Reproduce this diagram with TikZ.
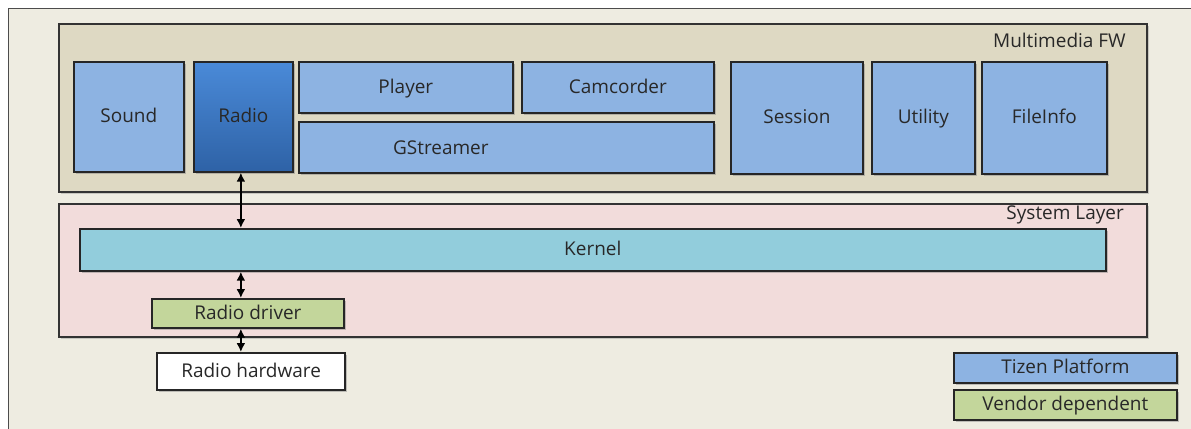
\documentclass[tikz,border=0pt]{standalone}
\usepackage{fontspec}
\setmainfont{Open Sans}
\usetikzlibrary{shadows,arrows.meta}

\definecolor{pageBg}{RGB}{238,236,225}
\definecolor{mmBg}{RGB}{222,217,195}
\definecolor{sysBg}{RGB}{242,220,219}
\definecolor{tizenBlue}{RGB}{141,179,226}
\definecolor{kernelBlue}{RGB}{146,205,220}
\definecolor{vendorGreen}{RGB}{195,214,155}
\definecolor{radioTop}{RGB}{74,138,216}
\definecolor{radioBot}{RGB}{46,98,166}
\definecolor{txt}{RGB}{40,40,40}

\tikzset{
  box/.style={draw=black!85, line width=1pt, inner sep=0pt, anchor=north west,
    text=txt, text height=1.6ex, text depth=0.3ex,
    drop shadow={shadow xshift=1.2pt, shadow yshift=-1.2pt, opacity=0.45}},
  tizen/.style={box, fill=tizenBlue},
  vendor/.style={box, fill=vendorGreen},
  layer/.style={draw=black!80, line width=1pt, inner sep=0pt, anchor=north west,
    drop shadow={shadow xshift=1.2pt, shadow yshift=-1.2pt, opacity=0.35}},
  link/.style={{Latex[length=5pt,width=5pt]}-{Latex[length=5pt,width=5pt]}, line width=1pt}
}

\begin{document}
\begin{tikzpicture}[x=0.02cm, y=-0.02cm, font=\fontsize{10.8}{13}\selectfont]

\useasboundingbox (0,0) rectangle (1191,429);

% Page background
\draw[black!70, fill=pageBg] (8,8) rectangle (1200,440);

% Layers
\node[layer, fill=mmBg, minimum width=21.76cm, minimum height=3.36cm] (mmfw) at (58,23) {};
\node[layer, fill=sysBg, minimum width=21.76cm, minimum height=2.66cm] (syslayer) at (58,203) {};
\node[anchor=east, text=txt] (mmlabel) at (1132,40) {Multimedia FW};
\node[anchor=east, text=txt] (syslabel) at (1130,215) {System Layer};

% Multimedia FW blocks
\node[tizen, minimum width=2.2cm, minimum height=2.2cm] (sound) at (73,61) {Sound};
\node[box, top color=radioTop, bottom color=radioBot, minimum width=1.98cm,
  minimum height=2.2cm] (radio) at (193,61) {Radio};
\node[tizen, minimum width=4.28cm, minimum height=1.02cm] (player) at (298,61) {Player};
\node[tizen, minimum width=3.84cm, minimum height=1.02cm] (camcorder) at (521,61) {Camcorder};
\node[tizen, minimum width=8.3cm, minimum height=1.02cm,
  label={[xshift=-1.31cm, text=txt]center:GStreamer}] (gstreamer) at (298,121) {};
\node[tizen, minimum width=2.64cm, minimum height=2.24cm] (session) at (730,61) {Session};
\node[tizen, minimum width=2.06cm, minimum height=2.24cm] (utility) at (871,61) {Utility};
\node[tizen, minimum width=2.5cm, minimum height=2.24cm] (fileinfo) at (981,61) {FileInfo};

% System layer blocks
\node[box, fill=kernelBlue, minimum width=20.52cm, minimum height=0.84cm] (kernel) at (79,228) {Kernel};
\node[vendor, minimum width=3.84cm, minimum height=0.58cm] (driver) at (151,298) {Radio driver};
\node[box, fill=white, line width=1.3pt, minimum width=3.76cm, minimum height=0.74cm] (hardware) at (156,352) {Radio hardware};

% Legend
\node[tizen, minimum width=4.46cm, minimum height=0.6cm] (legtizen) at (953,352) {Tizen Platform};
\node[vendor, minimum width=4.46cm, minimum height=0.6cm] (legvendor) at (953,389) {Vendor dependent};

% Links
\draw[link] ([xshift=-0.05cm]radio.south) -- ([xshift=-0.05cm]radio.south |- kernel.north);
\draw[link] (kernel.south -| radio.south) ++(-0.05cm,0) -- ([xshift=-0.05cm]driver.north -| radio.south);
\draw[link] (driver.south -| radio.south) ++(-0.05cm,0) -- ([xshift=-0.05cm]hardware.north -| radio.south);

\end{tikzpicture}
\end{document}
